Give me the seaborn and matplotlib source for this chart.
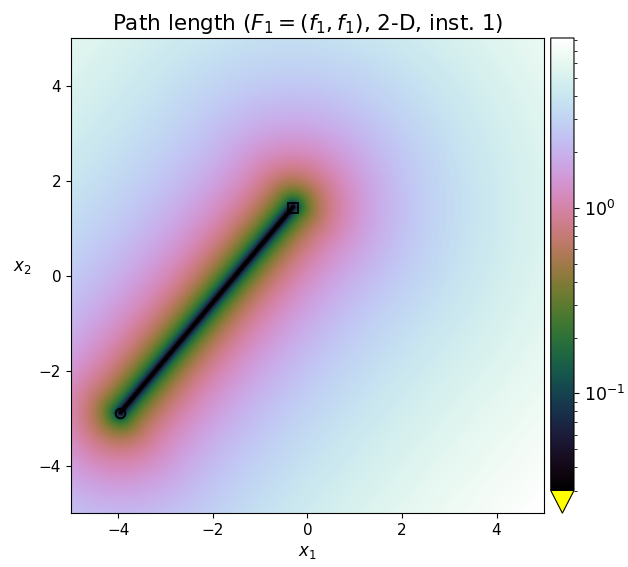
import numpy as np
import pandas as pd
import matplotlib
matplotlib.use("Agg")
import matplotlib.pyplot as plt
import seaborn as sns
from matplotlib.colors import LogNorm

# --- Data ---
# end points of the Pareto set (segment between the two optima)
opt_start = [-3.96, -2.89]   # circle marker
opt_end = [-0.31, 1.43]      # square marker
x_limits = [-5, 5]
y_limits = [-5, 5]
tick_values = [-4, -2, 0, 2, 4]
color_limits = [0.03, 8.2]   # log colour scale
title_text = r"Path length ($F_1=(f_1,f_1)$, 2-D, inst. 1)"

# path length to the Pareto set on a grid (distance to the segment)
n_grid = 501
gx = np.linspace(x_limits[0], x_limits[1], n_grid)
gy = np.linspace(y_limits[0], y_limits[1], n_grid)
X, Y = np.meshgrid(gx, gy)
a = np.array(opt_start)
b = np.array(opt_end)
d = b - a
t = ((X - a[0]) * d[0] + (Y - a[1]) * d[1]) / (d @ d)
t = np.clip(t, 0, 1)
Z = np.hypot(X - (a[0] + t * d[0]), Y - (a[1] + t * d[1]))
Z = np.clip(Z, color_limits[0], None)

seg = pd.DataFrame({"x1": [opt_start[0], opt_end[0]], "x2": [opt_start[1], opt_end[1]]})

# --- Plot ---
sns.set_style("ticks")
plt.rcParams["font.family"] = ["DejaVu Sans"]
for key in ["axes.edgecolor", "xtick.color", "ytick.color", "text.color", "axes.labelcolor"]:
    plt.rcParams[key] = "black"

fig = plt.figure(figsize=(6.28, 5.67), dpi=100)
ax = fig.add_axes([0.113, 0.095, 0.753, 0.838])
cax = fig.add_axes([0.877, 0.095, 0.037, 0.838])

cmap = matplotlib.colormaps["cubehelix"].copy()
cmap.set_under("yellow")
im = ax.imshow(Z, extent=[x_limits[0], x_limits[1], y_limits[0], y_limits[1]],
               origin="lower", cmap=cmap, aspect="auto", interpolation="bilinear",
               norm=LogNorm(vmin=color_limits[0], vmax=color_limits[1]))

sns.lineplot(data=seg, x="x1", y="x2", ax=ax, color="black", linewidth=1.5, sort=False)
ax.plot(opt_start[0], opt_start[1], marker="o", ms=7, mfc="none", mec="black", mew=1.3)
ax.plot(opt_end[0], opt_end[1], marker="s", ms=7, mfc="none", mec="black", mew=1.3)

ax.set_xlim(x_limits)
ax.set_ylim(y_limits)
ax.set_xticks(tick_values)
ax.set_yticks(tick_values)
ax.tick_params(labelsize=11)
ax.set_xlabel(r"$x_1$", fontsize=12)
ax.set_ylabel(r"$x_2$", fontsize=12, rotation=0, labelpad=12)
ax.set_title(title_text, fontsize=15.5)

cb = fig.colorbar(im, cax=cax, extend="min")
cb.ax.tick_params(labelsize=12.5)
cb.outline.set_edgecolor("black")

fig.savefig("out.png", dpi=100)
